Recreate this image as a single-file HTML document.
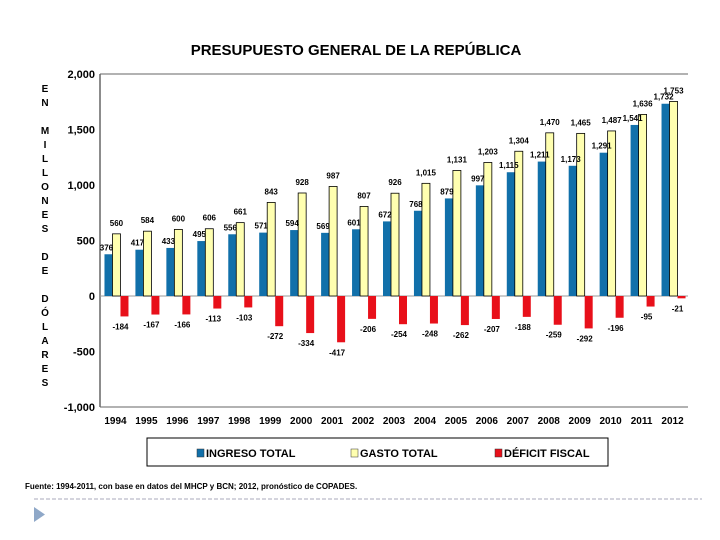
<!DOCTYPE html>
<html><head><meta charset="utf-8"><style>
body{margin:0;background:#fff;width:720px;height:540px;overflow:hidden;font-family:"Liberation Sans",sans-serif}
svg{display:block}
text{font-family:"Liberation Sans",sans-serif}
</style></head><body>
<svg id="c" width="720" height="540">
<text x="356" y="55" text-anchor="middle" font-size="15" font-weight="bold">PRESUPUESTO GENERAL DE LA REPÚBLICA</text>
<g id="ylab"></g>
<g id="grid"></g><g id="bars"></g><g id="labels"></g>
<rect x="147" y="438" width="461" height="28" fill="#fff" stroke="#000" stroke-width="1"/>
<g><rect x="197" y="449" width="7" height="8" fill="#1170aa" stroke="#333" stroke-width="0.5"/><text x="206" y="457" font-size="11" font-weight="bold">INGRESO TOTAL</text></g>
<g><rect x="351" y="449" width="7" height="8" fill="#ffffb0" stroke="#333" stroke-width="0.5"/><text x="360" y="457" font-size="11" font-weight="bold">GASTO TOTAL</text></g>
<g><rect x="495" y="449" width="7" height="8" fill="#e8101a" stroke="#333" stroke-width="0.5"/><text x="504" y="457" font-size="11" font-weight="bold">DÉFICIT FISCAL</text></g>
<text x="25" y="489" font-size="8" font-weight="bold">Fuente:  1994-2011, con base en datos del MHCP y BCN; 2012, pronóstico de COPADES.</text>
<line x1="34" y1="499" x2="702" y2="499" stroke="#aab" stroke-dasharray="4,2"/>
<polygon points="34,507 45,514.5 34,522" fill="#8fa8c8"/>
</svg>
<script>
const years=["1994","1995","1996","1997","1998","1999","2000","2001","2002","2003","2004","2005","2006","2007","2008","2009","2010","2011","2012"];
const ingreso=[376,417,433,495,556,571,594,569,601,672,768,879,997,1115,1211,1173,1291,1541,1732];
const gasto=[560,584,600,606,661,843,928,987,807,926,1015,1131,1203,1304,1470,1465,1487,1636,1753];
const deficit=[-184,-167,-166,-113,-103,-272,-334,-417,-206,-254,-248,-262,-207,-188,-259,-292,-196,-95,-21];
const ticks=[2000,1500,1000,500,0,-500,-1000];
const NS='http://www.w3.org/2000/svg';
const X0=100,X1=688,Y0=296,K=0.111;
const y=v=>Y0-v*K;
const gw=(X1-X0)/years.length;
const gx=i=>X0+i*gw;
function mk(p,t,a){const e=document.createElementNS(NS,t);for(const k in a)e.setAttribute(k,a[k]);document.getElementById(p).appendChild(e);return e;}
const fmt=v=>{const s=Math.abs(v).toLocaleString('en-US');return (v<0?'-':'')+s;};
let l=mk('grid','line',{x1:X0,y1:y(2000),x2:X1,y2:y(2000),stroke:'#999','stroke-width':1.5});

l=mk('grid','line',{x1:X0,y1:y(-1000),x2:X1,y2:y(-1000),stroke:'#999','stroke-width':1.5});

l=mk('grid','line',{x1:X0,y1:y(2000),x2:X0,y2:y(-1000),stroke:'#666','stroke-width':1.5});

l=mk('grid','line',{x1:X0,y1:Y0,x2:X1,y2:Y0,stroke:'#999','stroke-width':1});

ticks.forEach(t=>{const e=mk('labels','text',{x:95,y:y(t)+4,'text-anchor':'end','font-size':11,'font-weight':'bold'});e.textContent=fmt(t);
});
const vt="EN MILLONES DE DÓLARES".split('');let yy=92;
vt.forEach(ch=>{if(ch===' '){yy+=14;return;}const e=mk('ylab','text',{x:45,y:yy,'text-anchor':'middle','font-size':10,'font-weight':'bold'});e.textContent=ch;yy+=14;});
const bw=8;
years.forEach((yr,i)=>{
 const c=gx(i)+gw/2, b0=c-11;
 const e=mk('labels','text',{x:c,y:424,'text-anchor':'middle','font-size':10,'font-weight':'bold'});e.textContent=yr;
 
 let r=mk('bars','rect',{x:b0,y:y(ingreso[i]),width:bw,height:ingreso[i]*K,fill:'#1170aa'});
 
 r=mk('bars','rect',{x:b0+bw,y:y(gasto[i]),width:bw,height:gasto[i]*K,fill:'#ffffb0',stroke:'#000','stroke-width':0.8});
 
 r=mk('bars','rect',{x:b0+2*bw,y:Y0,width:bw,height:-deficit[i]*K,fill:'#e8101a'});
 
 let t=mk('labels','text',{x:b0+2,y:y(ingreso[i])-4,'text-anchor':'middle','font-size':8,'font-weight':'bold'});t.textContent=fmt(ingreso[i]);
 
 t=mk('labels','text',{x:b0+bw+4,y:y(gasto[i])-8,'text-anchor':'middle','font-size':8,'font-weight':'bold'});t.textContent=fmt(gasto[i]);
 
 t=mk('labels','text',{x:b0+2*bw,y:y(deficit[i])+13,'text-anchor':'middle','font-size':8,'font-weight':'bold'});t.textContent=fmt(deficit[i]);
 
});
</script>
</body></html>
